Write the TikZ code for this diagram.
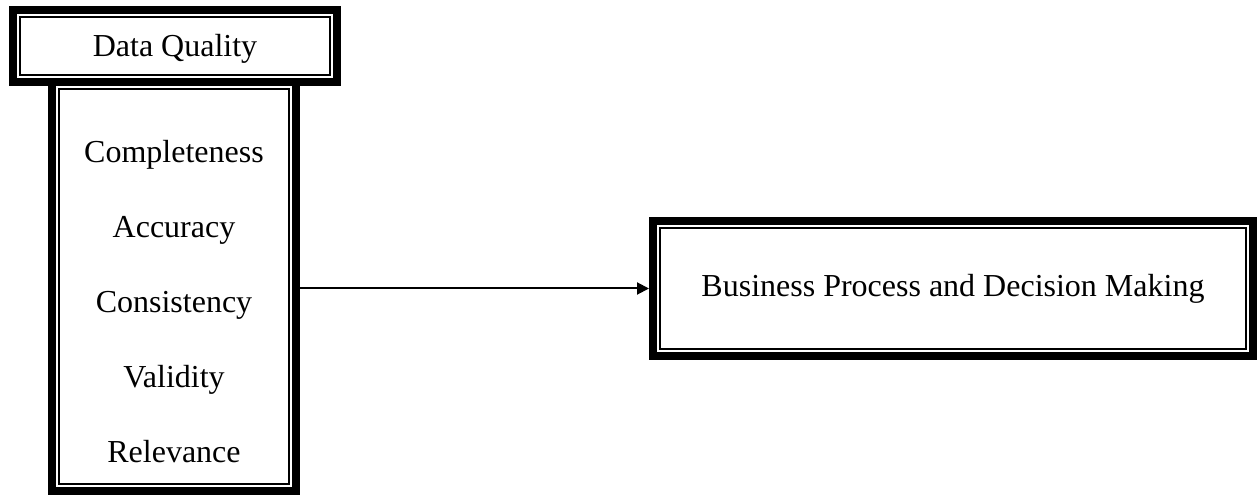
\documentclass[tikz,border=0pt]{standalone}
\usepackage{fontspec}
\setmainfont{Liberation Serif}
\usetikzlibrary{arrows.meta}

\tikzset{
  frame/.style={draw, line width=4pt, fill=white, inner sep=0pt, align=center},
  inner frame/.style={draw, line width=1pt},
}

\begin{document}
\begin{tikzpicture}[x=0.5pt,y=-0.5pt,font=\fontsize{16}{19}\selectfont]
  \useasboundingbox (0,0) rectangle (1258,496);
  % boxes
  \node[frame, minimum width=122pt, minimum height=204.5pt] (attr) at (174,286.5) {};
  \node[frame, minimum width=162pt, minimum height=36pt, text height=11pt, text depth=0pt] (dq) at (175,46) {Data Quality};
  \node[frame, minimum width=300pt, minimum height=67.5pt] (bpd) at (953,288.5) {Business Process and Decision Making};
  % thin inner lines
  \foreach \n in {attr,dq,bpd}
    \draw[inner frame] ([shift={(5.5pt,5.5pt)}]\n.south west) rectangle ([shift={(-5.5pt,-5.5pt)}]\n.north east);
  % dimensions
  \foreach \t [count=\i from 0] in {Completeness,Accuracy,Consistency,Validity,Relevance}
    \node[anchor=base] (dim\i) at (174,163+75*\i) {\t};
  \draw[-{Triangle[length=6pt,width=6pt]}, line width=1pt] (attr.east |- bpd) -- (bpd.west);
\end{tikzpicture}
\end{document}
